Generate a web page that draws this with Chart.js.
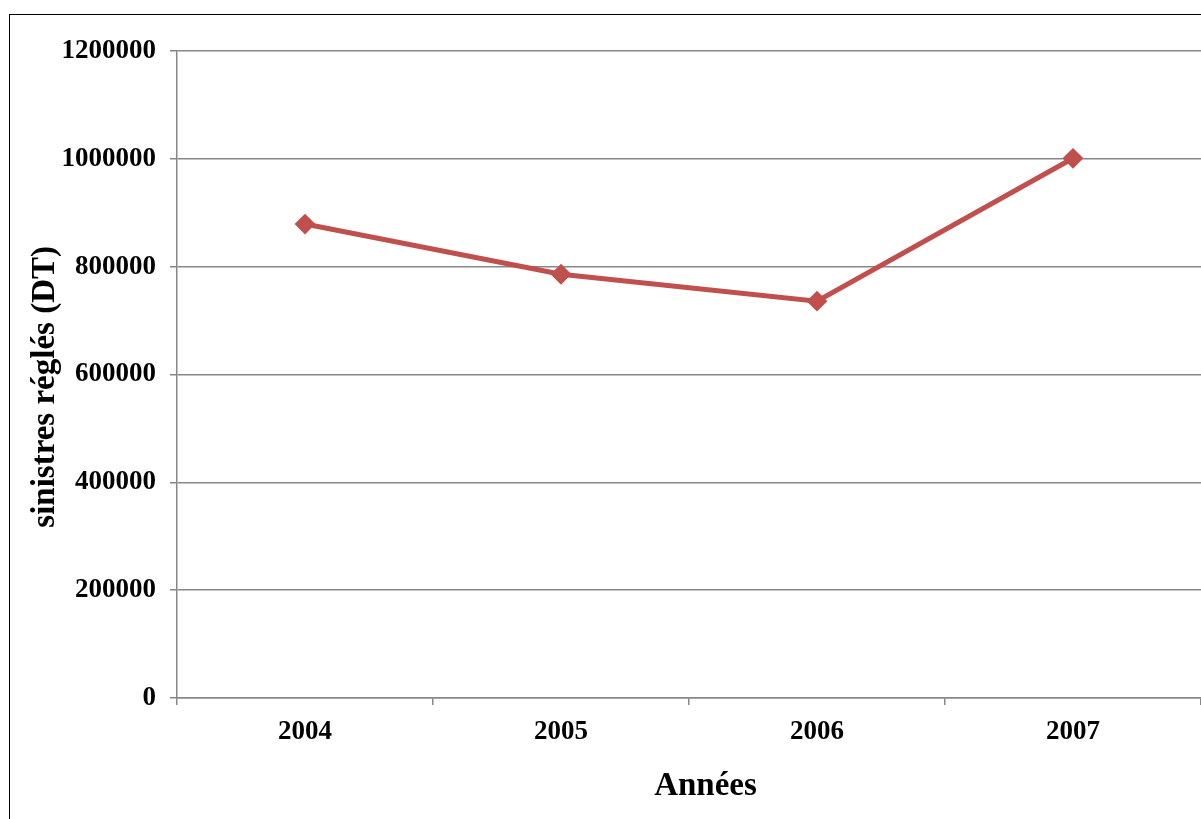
<!DOCTYPE html>
<html>
<head>
<meta charset="utf-8">
<script src="https://cdn.jsdelivr.net/npm/chart.js@4/dist/chart.umd.min.js"></script>
<style>
  body { margin: 0; background: #fff; overflow: hidden; }
  #frame { position: absolute; left: 9px; top: 14px; width: 1400px; height: 1000px; border: 1.5px solid #000; }
  #wrap { position: absolute; left: 0; top: 0; width: 1201px; height: 819px; }
</style>
</head>
<body>
<div id="frame"></div>
<div id="wrap"><canvas id="chart" width="1201" height="819"></canvas></div>
<script>
const YEARS = ["2004", "2005", "2006", "2007"]
const SINISTRES = [879000, 786000, 736000, 1001000]
const Y_MAX = 1200000
const Y_STEP = 200000

const FONT = "'Liberation Serif', 'Times New Roman', serif"
const GRID = "#878787"
const RED = "#C0504D"

new Chart(document.getElementById("chart"), {
  type: "line",
  data: {
    labels: YEARS,
    datasets: [{
      label: "sinistres réglés",
      data: SINISTRES,
      borderColor: RED,
      backgroundColor: RED,
      borderWidth: 5,
      pointStyle: "rectRot",
      pointRadius: 9,
      pointBorderWidth: 2,
      pointBackgroundColor: RED,
      pointBorderColor: RED,
      tension: 0,
    }],
  },
  options: {
    responsive: false,
    animation: false,
    layout: { autoPadding: false, padding: { top: 51, right: 0, bottom: 0, left: 0 } },
    plugins: { legend: { display: false }, tooltip: { enabled: false } },
    scales: {
      x: {
        offset: true,
        grid: { offset: true, drawOnChartArea: false, color: GRID, tickLength: 7, lineWidth: 1.5 },
        border: { color: GRID, width: 1.5 },
        ticks: { color: "#000", padding: 11, font: { family: FONT, size: 27, weight: "bold" } },
        title: {
          display: true,
          text: "    Années",
          color: "#000",
          padding: { top: 0, bottom: 13 },
          font: { family: FONT, size: 33, weight: "bold" },
        },
        afterFit: function (scale) { scale.height = 121 },
      },
      y: {
        min: 0,
        max: Y_MAX,
        grid: { color: GRID, tickLength: 7, lineWidth: 1.5 },
        border: { color: GRID, width: 1.5 },
        ticks: {
          stepSize: Y_STEP,
          color: "#000",
          padding: 14,
          font: { family: FONT, size: 27, weight: "bold" },
          callback: function (value) { return String(value) },
        },
        title: {
          display: true,
          text: "sinistres réglés (DT)   ",
          color: "#000",
          padding: { top: 26, bottom: 0 },
          font: { family: FONT, size: 33, weight: "bold" },
        },
        afterFit: function (scale) { scale.width = 177 },
      },
    },
  },
})
</script>
</body>
</html>
